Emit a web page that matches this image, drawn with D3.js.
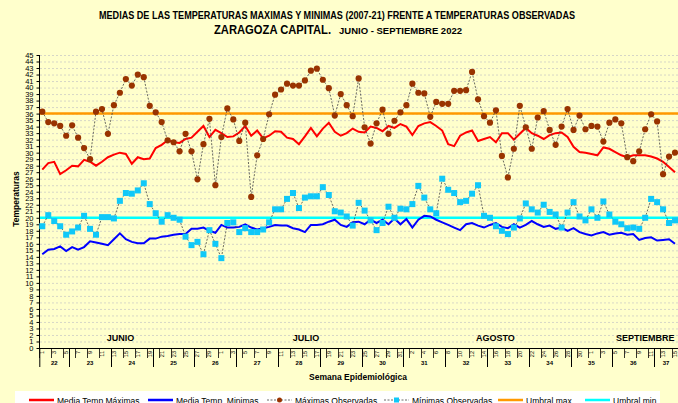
<!DOCTYPE html>
<html>
<head>
<meta charset="utf-8">
<script src="https://cdn.jsdelivr.net/npm/d3@7"></script>
<style>
  body { margin: 0; background: #ffffcc; }
  svg { display: block; font-family: "Liberation Sans", Arial, sans-serif; }
</style>
</head>
<body>
<div id="chart"></div>
<script>
// Daily values, 1 June - 15 September 2022
const mediaMax = [27.4,28.4,28.6,26.7,27.3,28.0,27.9,28.9,28.6,28.0,28.6,29.3,29.7,30.0,29.8,28.3,29.3,29.0,29.1,30.7,
  31.2,31.9,31.6,31.5,32.1,32.3,33.2,34.1,32.4,33.5,33.0,32.4,32.5,33.1,34.1,32.6,33.4,32.2,32.6,33.3,
  33.2,32.3,32.1,31.3,32.5,33.8,32.5,33.7,34.6,33.2,32.6,33.0,33.7,33.2,33.1,34.0,33.8,33.3,34.1,33.8,
  34.4,34.0,32.7,34.1,34.5,34.7,34.1,33.4,31.3,31.0,32.6,33.1,33.4,31.8,32.1,32.4,31.6,33.0,33.0,32.0,
  32.9,33.8,33.0,32.6,32.1,32.7,33.0,33.1,32.4,30.9,30.1,30.0,29.8,29.6,30.8,30.6,30.1,29.6,29.3,29.6,
  29.6,29.6,29.4,29.1,28.6,27.8,27.0];
const mediaMin = [14.4,15.1,15.2,15.6,14.9,15.5,15.1,15.5,16.4,16.2,16.0,15.8,16.7,17.6,16.7,16.3,16.1,16.1,16.8,16.8,
  17.1,17.2,17.4,17.5,17.5,18.3,18.3,18.5,18.0,17.7,18.9,18.5,18.5,18.6,19.0,18.5,18.2,18.4,18.6,18.9,
  18.8,18.8,18.4,18.2,17.8,18.9,18.9,19.0,19.4,19.7,18.9,18.6,19.3,19.4,19.0,19.7,19.2,19.7,19.0,19.9,
  19.0,19.8,18.5,19.7,20.3,20.2,19.7,19.3,18.9,18.5,18.1,19.0,19.2,18.8,18.5,18.9,19.2,18.6,18.4,19.0,
  18.5,18.9,19.5,19.0,18.6,18.8,18.3,18.5,18.0,18.4,17.8,17.5,17.3,17.6,17.8,17.4,17.6,17.7,17.4,17.5,
  16.6,16.9,17.0,16.5,16.6,16.7,16.0];
const maxObs = [36.3,34.7,34.5,34.1,32.6,34.2,32.3,30.7,29.0,36.3,36.7,32.9,37.3,39.2,41.3,40.3,42.0,41.6,37.2,36.2,
  34.7,31.9,31.6,30.2,32.9,30.2,25.9,31.3,35.2,25.0,32.4,36.8,35.1,31.8,34.6,23.2,29.6,32.1,35.9,38.9,
  39.7,40.6,40.3,40.3,41.1,42.6,42.9,41.2,39.9,35.7,39.0,37.3,35.6,41.4,33.9,31.4,34.5,36.6,32.9,34.9,
  36.2,37.3,40.6,39.2,39.1,35.5,37.8,37.5,37.5,39.5,39.5,39.6,42.4,38.2,35.6,34.6,36.5,29.5,26.2,30.6,
  37.2,33.9,30.6,35.4,36.4,33.5,31.2,34.0,36.7,33.5,35.7,33.6,34.1,34.0,31.7,34.6,35.1,34.5,29.3,28.7,
  30.2,33.6,35.9,34.8,26.7,29.4,30.0];
const minObs = [18.7,20.4,19.5,18.7,17.4,17.9,18.5,20.3,18.3,17.4,20.1,20.1,19.9,22.6,23.8,23.7,24.2,25.3,22.1,20.7,
  19.4,20.4,20.0,19.7,17.1,15.8,16.3,14.4,18.1,16.0,13.8,19.2,19.3,17.8,18.4,17.8,17.8,18.2,19.3,21.3,
  21.3,22.9,23.8,21.5,23.1,23.3,23.3,24.7,23.5,21.0,20.8,20.2,18.8,22.3,21.1,19.6,18.1,19.2,21.7,20.0,
  21.4,21.3,22.1,24.9,23.1,21.3,20.7,26.0,24.3,23.8,22.4,22.6,23.7,25.0,20.3,20.0,18.7,18.0,17.5,18.5,
  19.9,22.2,21.3,20.8,22.0,20.9,20.5,18.5,20.8,22.4,20.2,19.6,21.3,20.0,22.5,20.5,19.4,19.0,18.4,18.5,
  18.3,20.0,22.9,22.4,21.3,19.2,19.6];
const umbralMax = 36;
const umbralMin = 20;

const months = ["JUNIO", "JULIO", "AGOSTO", "SEPTIEMBRE"];
const monthAnchor = [13.6, 44.7, 76.4, 101.5]; // day index where the month label sits
const legendNames = ["Media Temp Máximas", "Media Temp. Minimas", "Máximas Observadas",
  "Mínimas Observadas", "Umbral max", "Umbral min"];

// Categories: one per day
const days = d3.timeDay.range(new Date(2022, 5, 1), new Date(2022, 8, 16));
const isoWeek = d3.timeFormat("%V");

const width = 678, height = 403;
const svg = d3.select("#chart").append("svg")
  .attr("width", width).attr("height", height);

svg.append("rect").attr("width", width).attr("height", height).attr("fill", "#ffffcc");

const x = d3.scaleBand().domain(d3.range(days.length)).range([39.3, 678]);
const y = d3.scaleLinear().domain([0, 45]).range([348, 55]);
const cx = (i) => x(i) + x.bandwidth() / 2;

// Titles
svg.append("text")
  .attr("x", 99).attr("y", 19)
  .attr("textLength", 476).attr("lengthAdjust", "spacingAndGlyphs")
  .style("font-size", "10px").style("font-weight", "bold")
  .text("MEDIAS DE LAS TEMPERATURAS MAXIMAS Y MINIMAS (2007-21)  FRENTE A TEMPERATURAS OBSERVADAS");
svg.append("text")
  .attr("x", 214).attr("y", 34)
  .attr("textLength", 117).attr("lengthAdjust", "spacingAndGlyphs")
  .style("font-size", "12px").style("font-weight", "bold")
  .text("ZARAGOZA  CAPITAL.");
svg.append("text")
  .attr("x", 339).attr("y", 34)
  .attr("textLength", 123).attr("lengthAdjust", "spacingAndGlyphs")
  .style("font-size", "9px").style("font-weight", "bold")
  .text("JUNIO - SEPTIEMBRE  2022");

// Gridlines
svg.append("g")
  .selectAll("line")
  .data(d3.range(1, 46))
  .enter()
  .append("line")
  .attr("x1", 40).attr("x2", width)
  .attr("y1", (d) => y(d) + 0.5).attr("y2", (d) => y(d) + 0.5)
  .style("stroke", "#c4c4c4")
  .style("stroke-width", 0.7)
  .style("stroke-dasharray", "2,2");

// Y axis
const yAxis = svg.append("g")
  .attr("transform", "translate(39.5,0)")
  .call(d3.axisLeft(y).tickValues(d3.range(0, 46)).tickSize(3).tickPadding(3));
yAxis.select(".domain").attr("d", `M0,${y(45)}V${y(0)}`).style("stroke", "#000");
yAxis.selectAll("text").style("font-size", "7.5px").style("fill", "#000")
  .style("font-family", "'Liberation Sans', Arial, sans-serif");

svg.append("text")
  .attr("transform", "translate(18.5,199) rotate(-90)")
  .attr("text-anchor", "middle")
  .style("font-size", "8.5px").style("font-weight", "bold")
  .text("Temperaturas");

// X axis (day labels every second day, then weeks)
const xg = svg.append("g");
xg.append("line")
  .attr("x1", 39.3).attr("x2", width)
  .attr("y1", 348.5).attr("y2", 348.5)
  .style("stroke", "#000");

xg.selectAll(".tick-small")
  .data(d3.range(0, days.length + 1, 2))
  .enter()
  .append("line")
  .attr("x1", (d) => Math.round(39.3 + d * x.step()) + 0.5)
  .attr("x2", (d) => Math.round(39.3 + d * x.step()) + 0.5)
  .attr("y1", 348).attr("y2", 358)
  .style("stroke", "#000").style("stroke-width", 0.8);

xg.selectAll(".day-label")
  .data(days.filter((d, i) => i % 2 === 0))
  .enter()
  .append("text")
  .attr("transform", (d) => {
    const i = days.indexOf(d);
    return `translate(${cx(i) + 2},351) rotate(-90)`;
  })
  .attr("text-anchor", "end")
  .style("font-size", "5.5px")
  .text((d) => d.getDate());

// Week groups
const weeks = d3.groups(days.map((d, i) => ({ i, w: +isoWeek(d) })), (d) => d.w);
weeks.forEach(([w, items], k) => {
  const first = items[0].i, last = items[items.length - 1].i;
  const xs = Math.round(x(first)) + 0.5;
  if (k > 0) {
    xg.append("line")
      .attr("x1", xs).attr("x2", xs)
      .attr("y1", 348).attr("y2", 367)
      .style("stroke", "#000");
  }
  xg.append("text")
    .attr("x", (x(first) + x(last) + x.bandwidth()) / 2)
    .attr("y", 365)
    .attr("text-anchor", "middle")
    .style("font-size", "6px").style("font-weight", "bold")
    .text(w);
});
xg.append("line")
  .attr("x1", 39.8).attr("x2", 39.8)
  .attr("y1", 348).attr("y2", 367)
  .style("stroke", "#000");

svg.append("text")
  .attr("x", 358).attr("y", 380)
  .attr("text-anchor", "middle")
  .style("font-size", "8.5px").style("font-weight", "bold")
  .text("Semana Epidemiológica");

// Month labels
svg.selectAll(".month")
  .data(months)
  .enter()
  .append("text")
  .attr("x", (d, i) => 39.3 + monthAnchor[i] * x.step())
  .attr("y", 341)
  .attr("text-anchor", "middle")
  .style("font-size", "9px").style("font-weight", "bold")
  .text((d) => d);

// Threshold lines
svg.append("line")
  .attr("x1", 40).attr("x2", width)
  .attr("y1", y(umbralMax)).attr("y2", y(umbralMax))
  .style("stroke", "#ff9900").style("stroke-width", 2.5);
svg.append("line")
  .attr("x1", 40).attr("x2", width)
  .attr("y1", y(umbralMin)).attr("y2", y(umbralMin))
  .style("stroke", "#00ffff").style("stroke-width", 2.5);

const line = d3.line().x((d, i) => cx(i)).y((d) => y(d));

// Mean lines
svg.append("path").datum(mediaMax).attr("d", line)
  .style("fill", "none").style("stroke", "#ff0000").style("stroke-width", 2);
svg.append("path").datum(mediaMin).attr("d", line)
  .style("fill", "none").style("stroke", "#0000ff").style("stroke-width", 2);

// Observed series
svg.append("path").datum(maxObs).attr("d", line)
  .style("fill", "none").style("stroke", "#444").style("stroke-width", 0.8)
  .style("stroke-dasharray", "2,1.5");
svg.append("g").selectAll("circle")
  .data(maxObs).enter().append("circle")
  .attr("cx", (d, i) => cx(i)).attr("cy", (d) => y(d))
  .attr("r", 3.1)
  .style("fill", "#993300");

svg.append("path").datum(minObs).attr("d", line)
  .style("fill", "none").style("stroke", "#444").style("stroke-width", 0.8)
  .style("stroke-dasharray", "2,1.5");
svg.append("g").selectAll("rect")
  .data(minObs).enter().append("rect")
  .attr("x", (d, i) => cx(i) - 3).attr("y", (d) => y(d) - 3)
  .attr("width", 6).attr("height", 6)
  .style("fill", "#10c8f8");

// Legend
const lg = svg.append("g");
lg.append("rect").attr("x", 15).attr("y", 391).attr("width", 645).attr("height", 20)
  .style("fill", "#fff");
const legendX = [29, 148, 267, 384, 498, 585];
const legendStyle = [
  { color: "#ff0000", w: 2.5 },
  { color: "#0000ff", w: 2.5 },
  { color: "#444", w: 0.8, dash: "2,1.5", marker: "circle" },
  { color: "#444", w: 0.8, dash: "2,1.5", marker: "square" },
  { color: "#ff9900", w: 2.5 },
  { color: "#00ffff", w: 2.5 },
];
legendNames.forEach((name, k) => {
  const s = legendStyle[k];
  const x0 = legendX[k];
  lg.append("line")
    .attr("x1", x0).attr("x2", x0 + 25)
    .attr("y1", 400).attr("y2", 400)
    .style("stroke", s.color).style("stroke-width", s.w)
    .style("stroke-dasharray", s.dash || null);
  if (s.marker === "circle") {
    lg.append("circle").attr("cx", x0 + 12.5).attr("cy", 400).attr("r", 2.5).style("fill", "#993300");
  } else if (s.marker === "square") {
    lg.append("rect").attr("x", x0 + 10).attr("y", 397.5).attr("width", 5).attr("height", 5).style("fill", "#10c8f8");
  }
  lg.append("text")
    .attr("x", x0 + 28).attr("y", 404)
    .style("font-size", "8.5px")
    .text(name);
});
</script>
</body>
</html>
